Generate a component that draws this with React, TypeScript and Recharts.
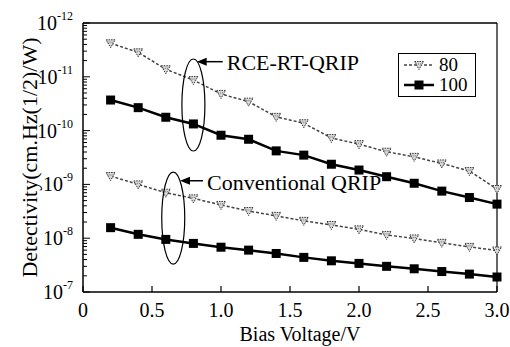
import { LineChart, Line, XAxis, YAxis, ReferenceLine, ReferenceDot } from 'recharts'

// Bias voltage (V) for every measured point
const VOLTAGES = [0.2, 0.4, 0.6, 0.8, 1.0, 1.2, 1.4, 1.6, 1.8, 2.0, 2.2, 2.4, 2.6, 2.8, 3.0]

// Detectivity readings, RCE-RT-QRIP device
const RCE_80 = [4.2e11, 2.85e11, 1.38e11, 8.7e10, 4.8e10, 3.45e10, 1.8e10, 1.37e10, 7.3e9, 5.6e9, 4.05e9, 3.25e9, 2.45e9, 1.77e9, 8.2e8]
const RCE_100 = [3.7e10, 2.67e10, 1.77e10, 1.33e10, 8.2e9, 6.9e9, 4.2e9, 3.5e9, 2.37e9, 1.85e9, 1.39e9, 1.05e9, 7.5e8, 5.7e8, 4.3e8]

// Detectivity readings, conventional QRIP
const CONV_80 = [1.43e9, 1.0e9, 7.0e8, 5.5e8, 4.15e8, 3.2e8, 2.6e8, 2.1e8, 1.76e8, 1.46e8, 1.15e8, 9.9e7, 8.2e7, 6.9e7, 5.9e7]
const CONV_100 = [1.57e8, 1.18e8, 9.5e7, 8.0e7, 6.8e7, 6.0e7, 5.2e7, 4.4e7, 3.8e7, 3.4e7, 3.0e7, 2.7e7, 2.4e7, 2.15e7, 1.9e7]

const X_TICKS = [0, 0.5, 1.0, 1.5, 2.0, 2.5, 3.0]
const X_TICK_LABELS = ['0', '0.5', '1.0', '1.5', '2.0', '2.5', '3.0']

// decade ticks, top to bottom as printed on the figure
const Y_DECADES = [1e12, 1e11, 1e10, 1e9, 1e8, 1e7]
const Y_DECADE_LABELS = ['-12', '-11', '-10', '-9', '-8', '-7']

const FONT = '"Liberation Serif", "Times New Roman", serif'

// minor log ticks (2..9 per decade) + decades
const Y_TICKS: number[] = []
for (const d of Y_DECADES.slice(1)) {
  for (let m = 1; m <= 9; m++) Y_TICKS.push(m * d)
}
Y_TICKS.push(1e12)

const rows = VOLTAGES.map((v, i) => ({
  v,
  rce80: RCE_80[i],
  rce100: RCE_100[i],
  conv80: CONV_80[i],
  conv100: CONV_100[i],
}))

// ─── Ticks ────────────────────────────────────────────────────────────────────

function XTick({ x, y, payload }: any) {
  const i = X_TICKS.indexOf(payload.value)
  return (
    <g>
      <line x1={x} x2={x} y1={y} y2={y - 6} stroke="#000" strokeWidth={1.2} />
      <text x={x} y={y + 25} textAnchor="middle" fontSize={20} fontFamily={FONT} fill="#000">
        {X_TICK_LABELS[i]}
      </text>
    </g>
  )
}

function YTick({ x, y, payload }: any) {
  const i = Y_DECADES.findIndex((d) => Math.abs(d - payload.value) / d < 1e-6)
  const major = i >= 0
  return (
    <g>
      <line x1={x} x2={x + (major ? 7 : 4)} y1={y} y2={y} stroke="#000" strokeWidth={1} />
      {major && (
        <text x={x - 10} y={y + 7} textAnchor="end" fontSize={20} fontFamily={FONT} fill="#000">
          <tspan>10</tspan>
          <tspan dy={-10} fontSize={12}>{Y_DECADE_LABELS[i]}</tspan>
        </text>
      )}
    </g>
  )
}

// ─── Markers ──────────────────────────────────────────────────────────────────

function SquareDot({ cx, cy, index }: any) {
  return <rect key={index} x={cx - 4.5} y={cy - 4.5} width={9} height={9} fill="#000" />
}

function HatchDot({ cx, cy, index }: any) {
  return (
    <g key={index}>
      <polygon
        points={`${cx - 4.5},${cy - 3.5} ${cx + 4.5},${cy - 3.5} ${cx},${cy + 4.5}`}
        fill="#d8d8d8"
        stroke="#333"
        strokeWidth={1}
        strokeDasharray="1.5 1"
      />
      <line x1={cx - 3} x2={cx + 3} y1={cy - 1} y2={cy - 1} stroke="#555" strokeWidth={0.8} strokeDasharray="1 1" />
    </g>
  )
}

// ─── Annotations ──────────────────────────────────────────────────────────────

function Ellipse({ cx, cy }: any) {
  return <ellipse cx={cx} cy={cy} rx={11.5} ry={46} fill="none" stroke="#000" strokeWidth={1.2} />
}

function arrowLabel(text: string, len: number, textDx: number, textDy: number) {
  return ({ cx, cy }: any) => (
    <g>
      <line x1={cx + 8} x2={cx + len} y1={cy} y2={cy} stroke="#000" strokeWidth={1.5} />
      <polygon points={`${cx},${cy} ${cx + 10},${cy - 4} ${cx + 10},${cy + 4}`} fill="#000" />
      <text x={cx + textDx} y={cy + textDy} fontSize={22} fontFamily={FONT} fill="#000">
        {text}
      </text>
    </g>
  )
}

// ─── Legend ───────────────────────────────────────────────────────────────────

function ChartLegend() {
  const row = (label: string, solid: boolean) => (
    <div style={{ display: 'flex', alignItems: 'center', height: 20 }}>
      <svg width={32} height={12} style={{ marginRight: 4, flexShrink: 0 }}>
        <line
          x1={1}
          x2={31}
          y1={6}
          y2={6}
          stroke={solid ? '#000' : '#444'}
          strokeWidth={solid ? 2.5 : 1.5}
          strokeDasharray={solid ? undefined : '3 2'}
        />
        {solid ? <SquareDot cx={16} cy={6} index={0} /> : <HatchDot cx={16} cy={6} index={0} />}
      </svg>
      <span style={{ fontSize: 19, lineHeight: '20px' }}>{label}</span>
    </div>
  )
  return (
    <div
      style={{
        position: 'absolute',
        left: 398,
        top: 53,
        width: 78,
        height: 44,
        border: '1px solid #000',
        boxSizing: 'border-box',
        padding: '1px 0 0 4px',
        fontFamily: FONT,
        background: '#fff',
      }}
    >
      {row('80', false)}
      {row('100', true)}
    </div>
  )
}

// ─── Chart ────────────────────────────────────────────────────────────────────

export default function App() {
  return (
    <div style={{ position: 'absolute', left: 0, top: 0, width: 510, height: 347, background: '#fff' }}>
      <LineChart width={510} height={347} data={rows} margin={{ top: 23, right: 13, bottom: 0, left: 0 }}>
        <XAxis
          dataKey="v"
          type="number"
          domain={[0, 3]}
          ticks={X_TICKS}
          interval={0}
          tick={<XTick />}
          tickLine={false}
          tickSize={0}
          tickMargin={0}
          axisLine={{ stroke: '#000', strokeWidth: 1.5 }}
          height={55}
          label={{
            content: ({ viewBox }: any) => (
              <text
                x={viewBox.x + viewBox.width / 2 + 10}
                y={341}
                textAnchor="middle"
                fontSize={20}
                fontFamily={FONT}
                fill="#000"
              >
                Bias Voltage/V
              </text>
            ),
          }}
        />
        <YAxis
          type="number"
          scale="log"
          domain={[1e7, 1e12]}
          allowDataOverflow
          ticks={Y_TICKS}
          interval={0}
          tick={<YTick />}
          tickLine={false}
          tickSize={0}
          tickMargin={0}
          axisLine={{ stroke: '#000', strokeWidth: 1.5 }}
          width={83}
          label={{
            content: ({ viewBox }: any) => {
              const cx = 29
              const cy = viewBox.y + viewBox.height / 2
              return (
                <text
                  x={cx}
                  y={cy}
                  transform={`rotate(-90 ${cx} ${cy})`}
                  textAnchor="middle"
                  dominantBaseline="central"
                  fontSize={22}
                  fontFamily={FONT}
                  fill="#000"
                >
                  Detectivity(cm.Hz(1/2)/W)
                </text>
              )
            },
          }}
        />
        <ReferenceLine y={1e12} stroke="#000" strokeWidth={1.5} />
        <ReferenceLine x={3} stroke="#000" strokeWidth={1.2} />

        <Line
          dataKey="rce80"
          type="linear"
          stroke="#444"
          strokeWidth={1.5}
          strokeDasharray="3 2"
          dot={HatchDot}
          isAnimationActive={false}
        />
        <Line dataKey="rce100" type="linear" stroke="#000" strokeWidth={2.5} dot={SquareDot} isAnimationActive={false} />
        <Line
          dataKey="conv80"
          type="linear"
          stroke="#444"
          strokeWidth={1.5}
          strokeDasharray="3 2"
          dot={HatchDot}
          isAnimationActive={false}
        />
        <Line dataKey="conv100" type="linear" stroke="#000" strokeWidth={2.5} dot={SquareDot} isAnimationActive={false} />

        <ReferenceDot x={0.8} y={2.99e10} r={0} shape={Ellipse} />
        <ReferenceDot x={0.654} y={2.37e8} r={0} shape={Ellipse} />
        <ReferenceDot x={0.824} y={1.91e11} r={0} shape={arrowLabel('RCE-RT-QRIP', 26, 30, 8.5)} />
        <ReferenceDot x={0.703} y={1.17e9} r={0} shape={arrowLabel('Conventional QRIP', 23, 27, 9.5)} />
      </LineChart>
      <ChartLegend />
    </div>
  )
}
